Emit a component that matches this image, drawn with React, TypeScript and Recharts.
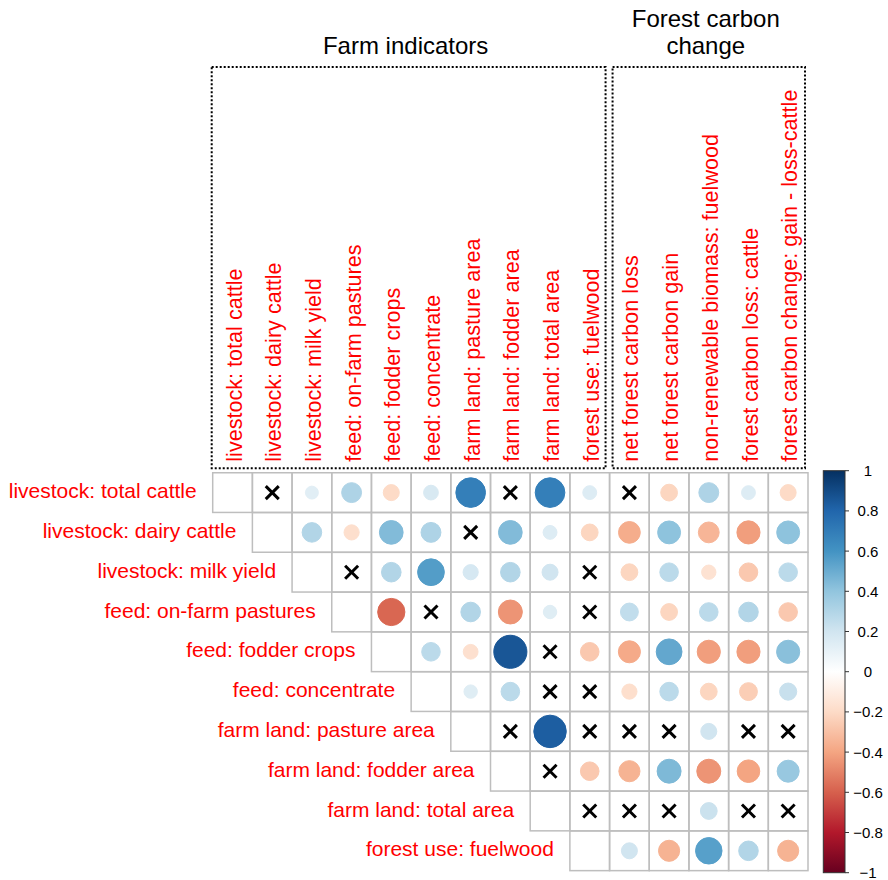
import React from 'react';
import { ScatterChart, Scatter, XAxis, YAxis, Customized } from 'recharts';

// Variable names
const rowLabels = [
  'livestock: total cattle',
  'livestock: dairy cattle',
  'livestock: milk yield',
  'feed: on-farm pastures',
  'feed: fodder crops',
  'feed: concentrate',
  'farm land: pasture area',
  'farm land: fodder area',
  'farm land: total area',
  'forest use: fuelwood',
];
const colLabels = [
  ...rowLabels,
  'net forest carbon loss',
  'net forest carbon gain',
  'non-renewable biomass: fuelwood',
  'forest carbon loss: cattle',
  'forest carbon change: gain - loss-cattle',
];

// Correlations right of the diagonal, row by row (null = not significant, drawn as a cross)
const totalCattle = [null, 0.13, 0.31, -0.2, 0.17, 0.69, null, 0.69, 0.15, null, -0.22, 0.31, 0.15, -0.2];
const dairyCattle = [0.3, -0.18, 0.44, 0.31, null, 0.44, 0.15, -0.22, -0.37, 0.41, -0.34, -0.42, 0.41];
const milkYield = [null, 0.3, 0.56, 0.18, 0.3, 0.2, null, -0.22, 0.27, -0.16, -0.27, 0.27];
const onFarmPastures = [-0.58, null, 0.3, -0.45, 0.14, null, 0.25, -0.22, 0.27, 0.3, -0.27];
const fodderCrops = [0.27, -0.17, 0.86, null, -0.27, -0.38, 0.52, -0.42, -0.42, 0.42];
const concentrate = [0.14, 0.27, null, null, -0.18, 0.27, -0.22, -0.25, 0.23];
const pastureArea = [null, 0.83, null, null, null, 0.2, null, null];
const fodderArea = [null, -0.27, -0.35, 0.45, -0.45, -0.4, 0.38];
const totalArea = [null, null, null, 0.22, null, null];
const fuelwood = [0.2, -0.35, 0.55, 0.3, -0.35];

const rowValues = [totalCattle, dairyCattle, milkYield, onFarmPastures, fodderCrops, concentrate, pastureArea, fodderArea, totalArea, fuelwood];

// Group headers and colour legend ticks
const groupTitles = [['Farm indicators'], ['Forest carbon', 'change']];
const legendTicks = [1, 0.8, 0.6, 0.4, 0.2, 0, -0.2, -0.4, -0.6, -0.8, -1];

const COL2 = ['#67001F', '#B2182B', '#D6604D', '#F4A582', '#FDDBC7', '#FFFFFF', '#D1E5F0', '#92C5DE', '#4393C3', '#2166AC', '#053061'];

// layout
const W = 888;
const H = 880;
const GRID_L = 212.7;
const GRID_R = 808;
const GRID_T = 472.7;
const GRID_B = 870.7;
const CELL = (GRID_R - GRID_L) / colLabels.length;
const FONT = '"Liberation Sans", Arial, sans-serif';

const hexToRgb = (h: string) => [1, 3, 5].map((i) => parseInt(h.slice(i, i + 2), 16));

const corrColor = (r: number) => {
  const t = ((r + 1) / 2) * 10;
  const i = Math.min(9, Math.max(0, Math.floor(t)));
  const f = t - i;
  const a = hexToRgb(COL2[i]);
  const b = hexToRgb(COL2[i + 1]);
  const c = a.map((v, k) => Math.round(v + (b[k] - v) * f));
  return `rgb(${c[0]},${c[1]},${c[2]})`;
};

const cells = rowValues.flatMap((vals, i) => [
  { x: i + 0.5, y: i + 0.5, diag: true, r: null as number | null },
  ...vals.map((r, k) => ({ x: i + k + 1.5, y: i + 0.5, diag: false, r })),
]);

const colTicks = colLabels.map((_, i) => i + 0.5);
const rowTicks = rowLabels.map((_, i) => i + 0.5);

const CellShape = (props: any) => {
  const { cx, cy, payload } = props;
  let mark = null;
  if (!payload.diag) {
    if (payload.r === null) {
      const s = 6.5;
      mark = (
        <g stroke="#000" strokeWidth={3}>
          <line x1={cx - s} y1={cy - s} x2={cx + s} y2={cy + s} />
          <line x1={cx - s} y1={cy + s} x2={cx + s} y2={cy - s} />
        </g>
      );
    } else {
      const col = corrColor(payload.r);
      mark = <circle cx={cx} cy={cy} r={0.45 * Math.sqrt(Math.abs(payload.r)) * CELL} fill={col} stroke={col} />;
    }
  }
  return (
    <g>
      <rect x={cx - CELL / 2} y={cy - CELL / 2} width={CELL} height={CELL} fill="none" stroke="#BEBEBE" strokeWidth={1.5} />
      {mark}
    </g>
  );
};

const ColTick = (props: any) => {
  const { x, payload } = props;
  const y = GRID_T - 11;
  return (
    <text x={x} y={y} dy="0.42em" transform={`rotate(-90, ${x}, ${y})`} textAnchor="start" fill="#FF0000" fontSize={21.6} fontFamily={FONT}>
      {colLabels[Math.floor(payload.value)]}
    </text>
  );
};

const RowTick = (props: any) => {
  const { y, payload } = props;
  const idx = Math.floor(payload.value);
  return (
    <text x={GRID_L + idx * CELL - 16} y={y} dy="0.27em" textAnchor="end" fill="#FF0000" fontSize={21} fontFamily={FONT}>
      {rowLabels[idx]}
    </text>
  );
};

const Decorations = () => {
  const split = GRID_L + rowLabels.length * CELL;
  const boxes = [
    { x1: GRID_L - 1, x2: split - 4 },
    { x1: split + 3, x2: GRID_R - 3 },
  ];
  const boxTop = 67;
  const boxBottom = 468.3;
  const barL = 823.3;
  const barR = 845;
  const barT = 470.7;
  const barB = 872.7;
  return (
    <g>
      {boxes.map((b, i) => {
        const lines = groupTitles[i];
        const cx = (b.x1 + b.x2) / 2 - 3;
        return (
          <g key={i}>
            <rect x={b.x1} y={boxTop} width={b.x2 - b.x1} height={boxBottom - boxTop} fill="none" stroke="#000" strokeWidth={2} strokeDasharray="2 2" />
            {lines.map((t, k) => (
              <text key={k} x={cx} y={54 - (lines.length - 1 - k) * 27} textAnchor="middle" fontSize={24} fontFamily={FONT} fill="#000">
                {t}
              </text>
            ))}
          </g>
        );
      })}
      <defs>
        <linearGradient id="rdbu" x1="0" y1="1" x2="0" y2="0">
          {COL2.map((c, i) => (
            <stop key={i} offset={i / 10} stopColor={c} />
          ))}
        </linearGradient>
      </defs>
      <rect x={barL} y={barT} width={barR - barL} height={barB - barT} fill="url(#rdbu)" stroke="#333" strokeWidth={1} />
      {legendTicks.map((v, i) => {
        const y = barT + ((1 - v) / 2) * (barB - barT);
        return (
          <g key={i}>
            <line x1={barR} y1={y} x2={barR + 4} y2={y} stroke="#333" strokeWidth={1} />
            <text x={868} y={y} dy="0.36em" textAnchor="middle" fontSize={15} fontFamily={FONT} fill="#000">
              {v < 0 ? `\u2212${Math.abs(v)}` : `${v}`}
            </text>
          </g>
        );
      })}
    </g>
  );
};

export default function App() {
  return (
    <div style={{ position: 'absolute', left: 0, top: 0, background: '#fff' }}>
      <ScatterChart
        width={W}
        height={H}
        margin={{ top: GRID_T - 1, right: W - GRID_R, bottom: H - GRID_B, left: GRID_L - 1 }}
      >
        <XAxis
          type="number"
          dataKey="x"
          domain={[0, colLabels.length]}
          ticks={colTicks}
          interval={0}
          orientation="top"
          height={1}
          axisLine={false}
          tickLine={false}
          tick={(p: any) => <ColTick {...p} />}
        />
        <YAxis
          type="number"
          dataKey="y"
          domain={[0, rowLabels.length]}
          reversed
          ticks={rowTicks}
          interval={0}
          width={1}
          axisLine={false}
          tickLine={false}
          tick={(p: any) => <RowTick {...p} />}
        />
        <Scatter data={cells} shape={(p: any) => <CellShape {...p} />} isAnimationActive={false} />
        <Customized component={Decorations} />
      </ScatterChart>
    </div>
  );
}
